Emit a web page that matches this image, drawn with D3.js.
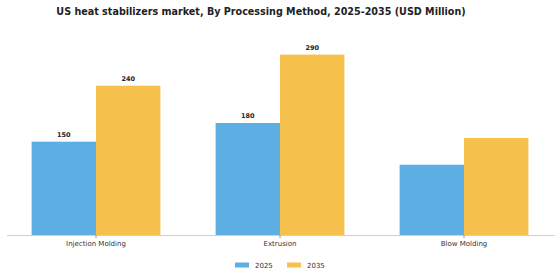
<!DOCTYPE html>
<html>
<head>
<meta charset="utf-8">
<script src="https://cdn.jsdelivr.net/npm/d3@7"></script>
<style>
  body { margin: 0; background: #fff; }
  svg text { font-family: "DejaVu Sans", sans-serif; }
</style>
</head>
<body>
<svg id="chart" width="560" height="280"></svg>
<script>
var categories = ["Injection Molding", "Extrusion", "Blow Molding"];
var seriesNames = ["2025", "2035"];
var values2025 = [150, 180, 113];
var values2035 = [240, 290, 156];
var showLabels = [true, true, false];
var colors = ["#5DAEE3", "#F6C14C"];

var width = 560, height = 280;
var baseY = 235;
var svg = d3.select("#chart");

var rows = categories.map(function (c, i) {
  return { cat: c, vals: [values2025[i], values2035[i]], label: showLabels[i] };
});

var x0 = d3.scaleBand()
  .domain(categories)
  .range([4, 556])
  .paddingInner(0.3)
  .paddingOuter(0.15);

var x1 = d3.scaleBand()
  .domain(seriesNames)
  .range([0, x0.bandwidth()]);

var y = d3.scaleLinear()
  .domain([0, 290])
  .range([baseY, baseY - 180.4]);

// title
svg.append("text")
  .attr("x", 261)
  .attr("y", 14.5)
  .attr("text-anchor", "middle")
  .style("font-size", "9.6px")
  .style("font-weight", "bold")
  .style("fill", "#222")
  .text("US heat stabilizers market, By Processing Method, 2025-2035 (USD Million)");

var g = svg.append("g");

var group = g.selectAll("g.cat")
  .data(rows)
  .enter()
  .append("g")
  .attr("class", "cat")
  .attr("transform", function (d) { return "translate(" + x0(d.cat) + ",0)"; });

group.selectAll("rect")
  .data(function (d) { return d.vals.map(function (v, i) { return { s: seriesNames[i], v: v, i: i }; }); })
  .enter()
  .append("rect")
  .attr("x", function (d) { return x1(d.s); })
  .attr("width", x1.bandwidth())
  .attr("y", function (d) { return y(d.v); })
  .attr("height", function (d) { return baseY - y(d.v); })
  .style("fill", function (d) { return colors[d.i]; });

group.filter(function (d) { return d.label; })
  .selectAll("text.val")
  .data(function (d) { return d.vals.map(function (v, i) { return { s: seriesNames[i], v: v }; }); })
  .enter()
  .append("text")
  .attr("class", "val")
  .attr("x", function (d) { return x1(d.s) + x1.bandwidth() / 2; })
  .attr("y", function (d) { return y(d.v) - 5; })
  .attr("text-anchor", "middle")
  .style("font-size", "6.5px")
  .style("font-weight", "bold")
  .style("fill", "#222")
  .text(function (d) { return d.v; });

// x axis
var axis = svg.append("g")
  .attr("transform", "translate(0," + baseY + ")")
  .call(d3.axisBottom(x0).tickSize(3).tickPadding(3).tickSizeOuter(0));
axis.select(".domain")
  .attr("d", "M7,0.5H555")
  .style("stroke", "#d0d0d0");
axis.selectAll(".tick line").style("stroke", "#999");
axis.selectAll(".tick text")
  .style("font-size", "7px")
  .style("fill", "#333")
  .style("font-family", "DejaVu Sans, sans-serif");

// legend
var legend = svg.append("g").attr("class", "legend");
var legX = [235, 287];
seriesNames.forEach(function (s, i) {
  var lg = legend.append("g").attr("transform", "translate(" + legX[i] + ",265)");
  lg.append("rect")
    .attr("x", 0).attr("y", -2.5)
    .attr("width", 14).attr("height", 5)
    .style("fill", colors[i]);
  lg.append("text")
    .attr("x", 20).attr("y", 2.5)
    .style("font-size", "7px")
    .style("fill", "#333")
    .text(s);
});
</script>
</body>
</html>
